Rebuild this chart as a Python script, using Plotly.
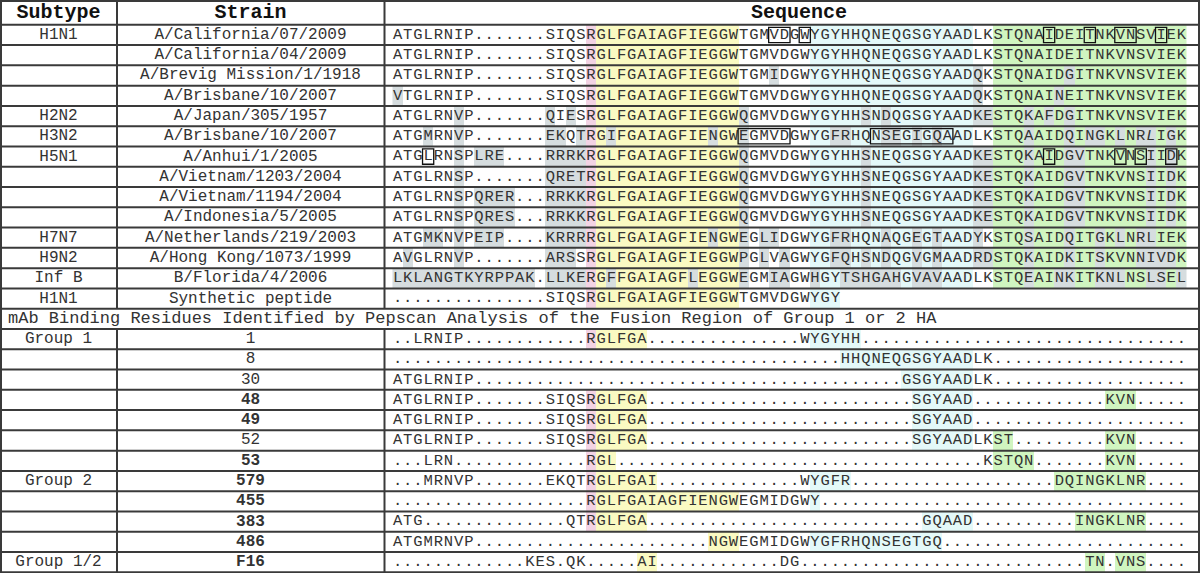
import plotly.graph_objects as go

# ---------------- data ----------------
header_labels = ["Subtype", "Strain", "Sequence"]

subtypes = ["H1N1", "", "", "", "H2N2", "H3N2", "H5N1", "", "", "",
            "H7N7", "H9N2", "Inf B", "H1N1"]
strains = ["A/California/07/2009", "A/California/04/2009", "A/Brevig Mission/1/1918",
           "A/Brisbane/10/2007", "A/Japan/305/1957", "A/Brisbane/10/2007",
           "A/Anhui/1/2005", "A/Vietnam/1203/2004", "A/Vietnam/1194/2004",
           "A/Indonesia/5/2005", "A/Netherlands/219/2003", "A/Hong Kong/1073/1999",
           "B/Florida/4/2006", "Synthetic peptide"]
strain_seqs = [
    "ATGLRNIP.......SIQSRGLFGAIAGFIEGGWTGMVDGWYGYHHQNEQGSGYAADLKSTQNAIDEITNKVNSVIEK",
    "ATGLRNIP.......SIQSRGLFGAIAGFIEGGWTGMVDGWYGYHHQNEQGSGYAADLKSTQNAIDEITNKVNSVIEK",
    "ATGLRNIP.......SIQSRGLFGAIAGFIEGGWTGMIDGWYGYHHQNEQGSGYAADQKSTQNAIDGITNKVNSVIEK",
    "VTGLRNIP.......SIQSRGLFGAIAGFIEGGWTGMVDGWYGYHHQNEQGSGYAADQKSTQNAINEITNKVNSVIEK",
    "ATGLRNVP.......QIESRGLFGAIAGFIEGGWQGMVDGWYGYHHSNDQGSGYAADKESTQKAFDGITNKVNSVIEK",
    "ATGMRNVP.......EKQTRGIFGAIAGFIENGWEGMVDGWYGFRHQNSEGIGQAADLKSTQAAIDQINGKLNRLIGK",
    "ATGLRNSPLRE....RRRKRGLFGAIAGFIEGGWQGMVDGWYGYHHSNEQGSGYAADKESTQKAIDGVTNKVNSIIDK",
    "ATGLRNSP.......QRETRGLFGAIAGFIEGGWQGMVDGWYGYHHSNEQGSGYAADKESTQKAIDGVTNKVNSIIDK",
    "ATGLRNSPQRER...RRKKRGLFGAIAGFIEGGWQGMVDGWYGYHHSNEQGSGYAADKESTQKAIDGVTNKVNSIIDK",
    "ATGLRNSPQRES...RRKKRGLFGAIAGFIEGGWQGMVDGWYGYHHSNEQGSGYAADKESTQKAIDGVTNKVNSIIDK",
    "ATGMKNVPEIP....KRRRRGLFGAIAGFIENGWEGLIDGWYGFRHQNAQGEGTAADYKSTQSAIDQITGKLNRLIEK",
    "AVGLRNVP.......ARSSRGLFGAIAGFIEGGWPGLVAGWYGFQHSNDQGVGMAADRDSTQKAIDKITSKVNNIVDK",
    "LKLANGTKYRPPAK.LLKERGFFGAIAGFLEGGWEGMIAGWHGYTSHGAHGVAVAADLKSTQEAINKITKNLNSLSEL",
    "...............SIQSRGLFGAIAGFIEGGWTGMVDGWYGY",
]

mab_title = "mAb Binding Residues Identified by Pepscan Analysis of the Fusion Region of Group 1 or 2 HA"

mab_groups = ["Group 1", "", "", "", "", "", "", "Group 2", "", "", "", "Group 1/2"]
mab_names = ["1", "8", "30", "48", "49", "52", "53", "579", "455", "383", "486", "F16"]
mab_bold = [False, False, False, True, True, False, True, True, True, True, True, True]
mab_seqs = [
    "..LRNIP" + "." * 12 + "RGLFGA" + "." * 15 + "WYGYHH" + "." * 32,
    "." * 44 + "HHQNEQGSGYAADLK" + "." * 19,
    "ATGLRNIP" + "." * 42 + "GSGYAADLK" + "." * 19,
    "ATGLRNIP.......SIQSRGLFGA" + "." * 26 + "SGYAAD" + "." * 13 + "KVN" + "." * 5,
    "ATGLRNIP.......SIQSRGLFGA" + "." * 26 + "SGYAAD" + "." * 21,
    "ATGLRNIP.......SIQSRGLFGA" + "." * 26 + "SGYAADLKST" + "." * 9 + "KVN" + "." * 5,
    "...LRN" + "." * 13 + "RGL" + "." * 36 + "KSTQN" + "." * 7 + "KVN" + "." * 5,
    "...MRNVP" + "." * 7 + "EKQTRGLFGAI" + "." * 14 + "WYGFR" + "." * 20 + "DQINGKLNR" + "." * 4,
    "." * 19 + "RGLFGAIAGFIENGWEGMIDGWY" + "." * 36,
    "ATG" + "." * 14 + "QTRGLFGA" + "." * 27 + "GQAAD" + "." * 10 + "INGKLNR" + "." * 4,
    "ATGMRNVP" + "." * 23 + "NGWEGMIDGWYGFRHQNSEGTGQ" + "." * 24,
    "." * 13 + "KES.QK" + "." * 5 + "AI" + "." * 12 + "DG" + "." * 28 + "TN.VNS" + "." * 4,
]
for s in strain_seqs[:-1] + mab_seqs:
    assert len(s) == 78, (s, len(s))

# highlighted regions (column index ranges, inclusive)
regions = {1: (19, 19),   # cleavage R (pink)
           2: (20, 33),   # fusion peptide (yellow)
           3: (41, 56),   # cyan
           4: (59, 77)}   # green
region_colors = {1: "#F3D3E4", 2: "#FAFAC2", 3: "#E4F9F9", 4: "#D0F5C0", 5: "#D6DDDF"}

# boxed residues: (strain row, first col, last col)
boxes = [(0, 37, 38), (0, 40, 40), (0, 64, 64), (0, 68, 68), (0, 71, 72), (0, 75, 75),
         (5, 34, 38), (5, 47, 54),
         (6, 3, 3), (6, 64, 64), (6, 71, 71), (6, 73, 73), (6, 76, 76)]
italic_cells = [(5, 74)]

# ---------------- geometry ----------------
W, H = 1200, 573
X0, CW = 392.5, 10.18
HEAD_H = 24.8
BOTTOM = 572.3
NROWS = len(strain_seqs) + 1 + len(mab_seqs)
ROW_H = (BOTTOM - HEAD_H) / NROWS
COL1, COL2 = 117.0, 384.5
XC_SUB, XC_STRAIN = 58.5, 250.5
TITLE_ROW = len(strain_seqs)
NCOL = 78

def row_top(r):
    return HEAD_H + r * ROW_H

def row_mid(r):
    return HEAD_H + (r + 0.5) * ROW_H

def col_mid(i):
    return X0 + (i + 0.5) * CW

def region_code(i):
    for k, (a, b) in regions.items():
        if a <= i <= b:
            return k
    return None

ref = strain_seqs[0]
z = []
for r, s in enumerate(strain_seqs):
    row = []
    for i in range(NCOL):
        c = s[i] if i < len(s) else ""
        if not c.isalpha():
            row.append(None)
        elif c != ref[i]:
            row.append(5)
        else:
            row.append(region_code(i))
    z.append(row)
z.append([None] * NCOL)
for s in mab_seqs:
    z.append([region_code(i) if s[i].isalpha() else None for i in range(NCOL)])

cs = []
for k in range(1, 6):
    cs.append([(k - 1) / 5, region_colors[k]])
    cs.append([k / 5, region_colors[k]])

fig = go.Figure()
fig.add_trace(go.Heatmap(
    x=[col_mid(i) for i in range(NCOL)],
    y=[row_mid(r) for r in range(NROWS)],
    z=z, zmin=0.5, zmax=5.5, colorscale=cs, showscale=False,
    hoverinfo="skip", xgap=0, ygap=0))

# sequence characters
tx, ty, tt = [], [], []
all_seqs = strain_seqs + [None] + mab_seqs
for r, s in enumerate(all_seqs):
    if s is None:
        continue
    for i, c in enumerate(s):
        tx.append(col_mid(i))
        ty.append(row_mid(r))
        tt.append("<i>%s</i>" % c if (r, i) in italic_cells else c)
fig.add_trace(go.Scatter(x=tx, y=ty, text=tt, mode="text", textposition="middle center",
                         textfont=dict(family="Liberation Mono", size=15.5, color="#333333"),
                         hoverinfo="skip", showlegend=False))

# left columns
lx, ly, lt = [], [], []
for r, (st, sn) in enumerate(zip(subtypes, strains)):
    lx += [XC_SUB, XC_STRAIN]; ly += [row_mid(r)] * 2; lt += [st, sn]
for j, (g, n, b) in enumerate(zip(mab_groups, mab_names, mab_bold)):
    r = TITLE_ROW + 1 + j
    lx += [XC_SUB, XC_STRAIN]; ly += [row_mid(r)] * 2
    lt += [g, "<b>%s</b>" % n if b else n]
fig.add_trace(go.Scatter(x=lx, y=ly, text=lt, mode="text", textposition="middle center",
                         textfont=dict(family="Liberation Mono", size=16, color="#333333"),
                         hoverinfo="skip", showlegend=False))

# header
fig.add_trace(go.Scatter(x=[XC_SUB, XC_STRAIN, 799], y=[HEAD_H / 2 + 0.5] * 3,
                         text=["<b>%s</b>" % h for h in header_labels], mode="text",
                         textposition="middle center",
                         textfont=dict(family="Liberation Mono", size=20, color="#111111"),
                         hoverinfo="skip", showlegend=False))

# title row
fig.add_trace(go.Scatter(x=[8], y=[row_mid(TITLE_ROW)], text=[mab_title], mode="text",
                         textposition="middle right",
                         textfont=dict(family="Liberation Mono", size=17, color="#333333"),
                         hoverinfo="skip", showlegend=False))

# grid lines
LC = "#3a3a3a"
shapes = []
def hline(y, w=2):
    shapes.append(dict(type="line", x0=0, x1=W, y0=y, y1=y, line=dict(color=LC, width=w)))
def vline(x, y0, y1, w=2):
    shapes.append(dict(type="line", x0=x, x1=x, y0=y0, y1=y1, line=dict(color=LC, width=w)))

hline(1)
hline(HEAD_H)
for r in range(NROWS):
    hline(row_top(r + 1))
vline(1, 0, H)
vline(W - 1, 0, H)
for xx in (COL1, COL2):
    vline(xx, 0, row_top(TITLE_ROW))
    vline(xx, row_top(TITLE_ROW + 1), BOTTOM)

for (r, a, b) in boxes:
    shapes.append(dict(type="rect", x0=X0 + a * CW - 0.5, x1=X0 + (b + 1) * CW + 0.5,
                       y0=row_top(r) + 2.5, y1=row_top(r + 1) - 2.5,
                       line=dict(color="#111111", width=1.3)))

fig.update_layout(
    width=W, height=H, margin=dict(l=0, r=0, t=0, b=0),
    paper_bgcolor="white", plot_bgcolor="white", shapes=shapes, showlegend=False,
    xaxis=dict(range=[0, W], visible=False, fixedrange=True),
    yaxis=dict(range=[H, 0], visible=False, fixedrange=True),
)
fig.write_html("out.html", config={"displayModeBar": False},
               post_script="document.body.style.margin='0';document.body.style.padding='0';"
                           "document.body.style.overflow='hidden';")
